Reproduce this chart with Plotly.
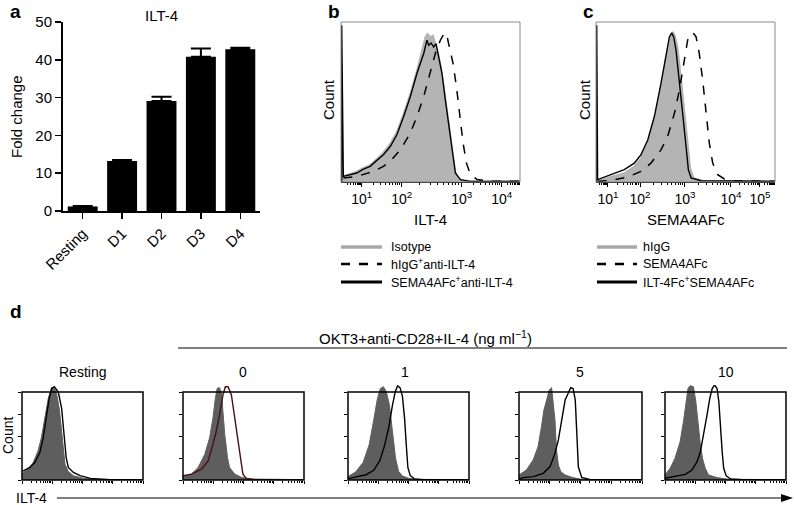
import math
import plotly.graph_objects as go

W, H = 794, 505
FONT = "Liberation Sans, Arial, sans-serif"


def px(x):
    return x / W


def py(y):
    return 1 - y / H


# ---------------- Panel a data ----------------
a_categories = ["Resting", "D1", "D2", "D3", "D4"]
a_values = [1.2, 13.2, 29.1, 40.8, 42.8]
a_errors = [0.1, 0.3, 1.1, 2.2, 0.4]
a_yticks = [0, 10, 20, 30, 40, 50]

# ---------------- Panel b data (x in display units of the biexponential axis) ----------------
b_tick_pos = [11.6, 33.9, 67.4, 89.8]
b_tick_text = ["10<sup>1</sup>", "10<sup>2</sup>", "10<sup>3</sup>", "10<sup>4</sup>"]
b_iso_x = [0.4, 1.3, 5.0, 8.8, 12.5, 16.3, 20.0, 23.7, 27.5, 31.2, 35.0, 38.7, 42.4, 45.2,
           47.1, 48.4, 49.9, 51.4, 52.7, 54.6, 56.4, 58.3, 60.2, 62.1, 63.9, 65.8, 70.5, 100]
b_iso_y = [0, 3.9, 5.0, 6.6, 9.0, 10.8, 14.5, 18.6, 24.2, 31.5, 42.9, 55.4, 69.9, 82.4,
           90.7, 92.7, 90.7, 91.7, 86.5, 79.3, 68.9, 52.3, 35.7, 19.1, 6.6, 1.9, 0.4, 0.4]
b_higg_x = [1.3, 8.8, 18.1, 23.7, 27.5, 33.1, 38.7, 42.4, 46.2, 49.9, 52.7, 55.5, 57.0,
            57.9, 59.3, 60.7, 62.6, 64.5, 66.4, 68.2, 70.1, 72.3, 76.1, 83.6, 100]
b_higg_y = [2.5, 3.5, 6.6, 9.8, 12.9, 20.1, 30.5, 40.9, 53.3, 67.8, 80.3, 88.6, 91.7,
            93.4, 90.7, 84.4, 74.1, 59.5, 40.9, 24.3, 11.8, 4.6, 1.5, 0.4, 0.4]
b_sema_x = [0.4, 0.4, 1.3, 5.0, 8.8, 12.5, 16.3, 20.0, 23.7, 27.5, 31.2, 35.0, 38.7, 42.4,
            46.2, 48.0, 49.0, 50.3, 51.8, 53.1, 54.6, 56.4, 58.3, 60.2, 62.1, 63.9, 66.7,
            72.3, 100]
b_sema_y = [0, 98, 3.5, 4.5, 5.6, 8.0, 9.8, 13.5, 17.0, 22.2, 29.5, 40.9, 53.3, 67.8,
            80.3, 88.6, 85.5, 86.9, 84.4, 86.5, 78.2, 67.8, 51.2, 34.6, 18.0, 5.6, 1.5,
            0.4, 0.4]
b_legend = ["Isotype", "hIgG<sup>+</sup>anti-ILT-4", "SEMA4AFc<sup>+</sup>anti-ILT-4"]

# ---------------- Panel c data ----------------
c_tick_pos = [6.7, 24.6, 49.7, 75.4, 91.6]
c_tick_text = ["10<sup>1</sup>", "10<sup>2</sup>", "10<sup>3</sup>", "10<sup>4</sup>",
               "10<sup>5</sup>"]
c_higg_x = [0.9, 8.4, 15.8, 21.4, 25.1, 28.9, 32.6, 36.3, 39.1, 41.5, 43.0, 44.1, 45.6,
            47.5, 49.3, 51.2, 52.7, 54.6, 60.5, 100]
c_higg_y = [1.0, 3.1, 5.6, 9.8, 14.9, 24.3, 38.8, 59.5, 78.2, 90.7, 93.8, 91.7, 84.4,
            65.8, 45.0, 24.3, 8.7, 2.5, 0.6, 0.4]
c_sema_x = [0.9, 8.4, 17.7, 25.1, 30.7, 36.3, 40.0, 43.8, 46.6, 49.3, 51.2, 53.1, 54.6,
            55.9, 57.7, 59.6, 61.5, 63.3, 65.2, 68.0, 71.7, 75.4, 100]
c_sema_y = [0.4, 1.0, 3.1, 6.6, 11.8, 20.1, 28.4, 42.9, 57.5, 76.1, 88.6, 93.2, 92.7,
            90.7, 80.3, 63.7, 42.9, 24.3, 11.8, 4.6, 1.9, 0.8, 0.4]
c_ilt_x = [0.4, 0.4, 0.9, 8.4, 15.8, 21.4, 25.1, 28.9, 32.6, 36.3, 39.1, 41.0, 42.3, 43.4,
           44.7, 46.6, 48.4, 50.3, 51.6, 53.1, 58.7, 100]
c_ilt_y = [0, 98, 1.5, 4.6, 7.7, 11.8, 17.0, 26.3, 40.9, 61.6, 80.3, 90.7, 93.2, 90.7,
           82.4, 63.7, 42.9, 22.2, 7.7, 2.5, 0.8, 0.4]
c_legend = ["hIgG", "SEMA4AFc", "ILT-4Fc<sup>+</sup>SEMA4AFc"]

# ---------------- Panel d data (x in decades 0-4, y count 0-100) ----------------
d_labels = ["Resting", "0", "1", "5", "10"]
d_gray_x = [
    [0, 0.2, 0.37, 0.53, 0.64, 0.76, 0.87, 0.98, 1.07, 1.14, 1.23, 1.31, 1.37, 1.42, 1.53,
     1.7, 2.03, 2.48, 4],
    [0, 0.28, 0.5, 0.72, 0.88, 0.99, 1.07, 1.13, 1.2, 1.27, 1.32, 1.38, 1.47, 1.54, 1.71,
     1.93, 2.26, 4],
    [0, 0.25, 0.5, 0.7, 0.85, 0.97, 1.07, 1.17, 1.27, 1.37, 1.47, 1.57, 1.67, 1.8, 2.0,
     2.3, 4],
    [0, 0.24, 0.46, 0.62, 0.73, 0.81, 0.9, 0.98, 1.06, 1.11, 1.17, 1.22, 1.28, 1.36, 1.5,
     1.72, 1.99, 2.32, 4],
    [0, 0.17, 0.33, 0.5, 0.61, 0.69, 0.76, 0.83, 0.94, 1.02, 1.09, 1.17, 1.24, 1.33, 1.44,
     1.72, 2.11, 4],
]
d_gray_y = [
    [7.5, 12.4, 19.9, 33, 48, 70.4, 92.9, 105, 104, 98.5, 81.6, 55.4, 33, 18, 9.7, 4.9,
     1.9, 0.4, 0.4],
    [3.7, 6.7, 14.2, 29.2, 47.9, 70.4, 92.9, 104, 105, 100, 77.9, 51.7, 25.5, 14.2, 6.7,
     3, 1.1, 0.4],
    [4, 9, 20, 40, 68, 92, 104, 106, 100, 85, 55, 25, 10, 4.5, 2, 0.7, 0.4],
    [5.7, 11.4, 22.7, 37.9, 60.6, 79.5, 90.9, 102, 105, 90.9, 68, 34, 17, 9.5, 5.7, 3,
     1.1, 0.4, 0.4],
    [5.7, 13.3, 24.6, 43.6, 66.3, 89, 104, 107, 106, 89, 62.5, 39.8, 24.6, 13.3, 5.7,
     2.7, 0.8, 0.4],
]
d_line_x = [
    [0, 0.09, 0.26, 0.42, 0.59, 0.7, 0.81, 0.9, 0.98, 1.07, 1.2, 1.31, 1.39, 1.46, 1.53,
     1.7, 1.92, 2.26, 2.92, 4],
    [0, 0.28, 0.61, 0.83, 0.99, 1.1, 1.21, 1.32, 1.4, 1.49, 1.6, 1.71, 1.82, 1.91, 1.98,
     2.09, 2.37, 4],
    [0, 0.3, 0.6, 0.85, 1.05, 1.2, 1.35, 1.47, 1.56, 1.64, 1.72, 1.8, 1.87, 1.93, 1.98,
     2.06, 2.2, 2.5, 4],
    [0, 0.13, 0.46, 0.79, 1.01, 1.17, 1.28, 1.39, 1.5, 1.6, 1.68, 1.76, 1.83, 1.88, 1.93,
     2.04, 2.32, 4],
    [0, 0.33, 0.67, 0.89, 1.06, 1.17, 1.28, 1.39, 1.48, 1.56, 1.64, 1.72, 1.78, 1.83, 1.89,
     1.94, 2.02, 2.17, 2.56, 4],
]
d_line_y = [
    [9.7, 11.2, 14.2, 19.9, 31.1, 47.9, 74.2, 92.9, 104, 106, 100, 81.6, 51.7, 25.5, 14.2,
     8.6, 4.9, 1.9, 0.4, 0.4],
    [4.9, 6.7, 12.4, 21.7, 40.4, 55.4, 74.2, 96.6, 106, 106, 96.6, 70.4, 40.4, 18, 6.7,
     1.9, 0.4, 0.4],
    [1.5, 3.5, 6, 11, 22, 38, 60, 85, 100, 107, 105, 95, 70, 38, 14, 5, 1.2, 0.4, 0.4],
    [0.8, 2.7, 3.8, 7.6, 15.2, 30.3, 45.5, 68.2, 90.9, 98.5, 105, 104, 90.9, 53, 15, 3,
     0.4, 0.4],
    [1.9, 3.8, 6.4, 11.4, 20.8, 32.2, 51.1, 73.9, 92.8, 104, 108, 104, 89, 58.7, 32.2,
     13.3, 4.9, 1.1, 0.4, 0.4],
]
d_line_colors = ["black", "#4a1010", "black", "black", "black"]

# ---------------- Layout geometry (pixels) ----------------
A_BOX = (63, 260, 22, 211)
B_BOX = (341, 520, 22, 182)
C_BOX = (596, 775, 22, 182)
D_BOXES = [(22, 143), (183, 304), (348, 469), (519, 642), (665, 786)]
D_LABEL_X = [82, 243, 405, 580, 726]
D_TOP, D_BOT = 392, 480
D_YMAX = 108  # axis range top, frame drawn at 100

fig = go.Figure()
layout = dict(
    width=W, height=H, margin=dict(l=0, r=0, t=0, b=0, pad=0, autoexpand=False),
    paper_bgcolor="white", plot_bgcolor="rgba(0,0,0,0)", hovermode=False,
    showlegend=False, font=dict(family=FONT, size=12, color="black"),
)
shapes = []
annotations = []


def ann(x, y, text, size=12, bold=False, angle=0, xanchor="center", yanchor="middle"):
    annotations.append(dict(
        x=px(x), y=py(y), xref="paper", yref="paper", text=f"<b>{text}</b>" if bold else text,
        showarrow=False, textangle=angle, xanchor=xanchor, yanchor=yanchor,
        font=dict(family=FONT, size=size, color="black")))


def minor_between(decades):
    vals = []
    for lo, hi in zip(decades[:-1], decades[1:]):
        for k in range(2, 10):
            vals.append(lo + math.log10(k) * (hi - lo))
    return vals


# ---------------- Panel a ----------------
fig.add_trace(go.Bar(
    x=a_categories, y=a_values, marker=dict(color="black", line=dict(width=0)), width=0.76,
    error_y=dict(type="data", array=a_errors, arrayminus=[0] * len(a_errors),
                 color="black", thickness=2, width=10),
    xaxis="x", yaxis="y"))
layout["xaxis"] = dict(domain=[px(A_BOX[0]), px(A_BOX[1])], anchor="y", showline=True,
                       linecolor="black", linewidth=2, ticks="outside", ticklen=6,
                       tickwidth=1.5, tickcolor="black", tickangle=-45,
                       tickfont=dict(size=15), showgrid=False, zeroline=False,
                       automargin=False)
layout["yaxis"] = dict(domain=[py(A_BOX[3]), py(A_BOX[2])], anchor="x", range=[0, 50],
                       tickvals=a_yticks, showline=True, linecolor="black", linewidth=2,
                       ticks="outside", ticklen=6, tickwidth=1.5, tickcolor="black",
                       tickfont=dict(size=15), showgrid=False, zeroline=False,
                       automargin=False)
ann(8, 11, "a", size=19, bold=True, xanchor="left")
ann(161, 15, "ILT-4", size=15)
ann(17, 117, "Fold change", size=15, angle=-90)

# ---------------- Panels b and c ----------------
def flow_axes(n, box, tick_pos, tick_text, title_text, letter, letter_x, count_x):
    x0, x1, y0, y1 = box
    majors = [0] + tick_pos + [100]
    layout[f"xaxis{n}"] = dict(
        domain=[px(x0), px(x1)], anchor=f"y{n}", range=[0, 100], showline=True,
        linecolor="black", linewidth=1.2, ticks="outside", ticklen=4, tickcolor="black",
        tickvals=tick_pos, ticktext=tick_text, tickfont=dict(size=14), showgrid=False,
        zeroline=False, automargin=False,
        minor=dict(tickvals=[v for v in minor_between(majors) if 0 < v < 100],
                   ticks="outside", ticklen=2, tickcolor="black"))
    layout[f"yaxis{n}"] = dict(domain=[py(y1), py(y0)], anchor=f"x{n}", range=[0, 100],
                               showticklabels=False, showline=False, showgrid=False,
                               zeroline=False, ticks="", automargin=False)
    shapes.append(dict(type="rect", xref="paper", yref="paper", x0=px(x0), x1=px(x1),
                       y0=py(y1), y1=py(y0), line=dict(color="#8a8a8a", width=1)))
    ann((x0 + x1) / 2, 220, title_text, size=15)
    ann(count_x, 100, "Count", size=15, angle=-90)
    ann(letter_x, 11, letter, size=19, bold=True, xanchor="left")


def legend_block(x_line0, x_line1, x_text, labels):
    ys = [247, 264, 282]
    styles = [dict(color="#a8a8a8", width=3.5, dash="solid"),
              dict(color="black", width=2.5, dash="dash"),
              dict(color="black", width=3, dash="solid")]
    for y, lab, st in zip(ys, labels, styles):
        shapes.append(dict(type="line", xref="paper", yref="paper", x0=px(x_line0),
                           x1=px(x_line1), y0=py(y), y1=py(y), line=st))
        ann(x_text, y, lab, size=12.5, xanchor="left")


# b traces
fig.add_trace(go.Scatter(x=b_iso_x, y=b_iso_y, mode="lines", fill="tozeroy",
                         fillcolor="#b4b4b4", line=dict(color="#b4b4b4", width=1.5),
                         xaxis="x2", yaxis="y2"))
fig.add_trace(go.Scatter(x=b_higg_x, y=b_higg_y, mode="lines",
                         line=dict(color="black", width=1.5, dash="dash"),
                         xaxis="x2", yaxis="y2"))
fig.add_trace(go.Scatter(x=b_sema_x, y=b_sema_y, mode="lines",
                         line=dict(color="black", width=1.4), xaxis="x2", yaxis="y2"))
flow_axes(2, B_BOX, b_tick_pos, b_tick_text, "ILT-4", "b", 326, 329)
legend_block(341, 382, 389, b_legend)

# c traces
fig.add_trace(go.Scatter(x=c_higg_x, y=c_higg_y, mode="lines", fill="tozeroy",
                         fillcolor="#b4b4b4", line=dict(color="#b4b4b4", width=1.5),
                         xaxis="x3", yaxis="y3"))
fig.add_trace(go.Scatter(x=c_sema_x, y=c_sema_y, mode="lines",
                         line=dict(color="black", width=1.5, dash="dash"),
                         xaxis="x3", yaxis="y3"))
fig.add_trace(go.Scatter(x=c_ilt_x, y=c_ilt_y, mode="lines",
                         line=dict(color="black", width=1.4), xaxis="x3", yaxis="y3"))
flow_axes(3, C_BOX, c_tick_pos, c_tick_text, "SEMA4AFc", "c", 581, 585)
legend_block(597, 637, 641, c_legend)

# ---------------- Panel d ----------------
d_minor = [k + math.log10(m) for k in range(4) for m in range(2, 10)]
for i, (bx, lab) in enumerate(zip(D_BOXES, d_labels)):
    n = 4 + i
    x0, x1 = bx
    top_px = D_BOT - (D_BOT - D_TOP) * D_YMAX / 100
    fig.add_trace(go.Scatter(x=d_gray_x[i], y=d_gray_y[i], mode="lines", fill="tozeroy",
                             fillcolor="#5e5e5e", line=dict(color="#5e5e5e", width=1),
                             xaxis=f"x{n}", yaxis=f"y{n}"))
    fig.add_trace(go.Scatter(x=d_line_x[i], y=d_line_y[i], mode="lines",
                             line=dict(color=d_line_colors[i], width=1.4),
                             xaxis=f"x{n}", yaxis=f"y{n}"))
    layout[f"xaxis{n}"] = dict(domain=[px(x0), px(x1)], anchor=f"y{n}", range=[0, 4],
                               tickvals=[0, 1, 2, 3, 4], ticks="outside", ticklen=3,
                               tickcolor="black", showticklabels=False, showline=False,
                               showgrid=False, zeroline=False, automargin=False,
                               minor=dict(tickvals=d_minor, ticks="outside", ticklen=2,
                                          tickcolor="black"))
    layout[f"yaxis{n}"] = dict(domain=[py(D_BOT), py(top_px)], anchor=f"x{n}",
                               range=[0, D_YMAX], tickvals=[0, 25, 50, 75, 100],
                               ticks="outside", ticklen=3, tickcolor="black",
                               showticklabels=False, showline=False, showgrid=False,
                               zeroline=False, automargin=False)
    shapes.append(dict(type="rect", xref="paper", yref="paper", x0=px(x0), x1=px(x1),
                       y0=py(D_BOT), y1=py(D_TOP), line=dict(color="black", width=1.5)))
    ann(D_LABEL_X[i], 372, lab, size=14)

ann(8, 311, "d", size=19, bold=True, xanchor="left")
ann(425, 337, "OKT3+anti-CD28+IL-4 (ng ml<sup>−1</sup>)", size=15)
shapes.append(dict(type="line", xref="paper", yref="paper", x0=px(178), x1=px(787),
                   y0=py(348), y1=py(348), line=dict(color="black", width=1)))
ann(8, 436, "Count", size=14, angle=-90)
ann(31, 498, "ILT-4", size=14)
shapes.append(dict(type="line", xref="paper", yref="paper", x0=px(57), x1=px(784),
                   y0=py(498), y1=py(498), line=dict(color="black", width=1.2)))
shapes.append(dict(type="path", xref="paper", yref="paper",
                   path=f"M {px(781)},{py(494)} L {px(793)},{py(498)} L {px(781)},{py(502)} Z",
                   fillcolor="black", line=dict(color="black", width=0)))

layout["shapes"] = shapes
layout["annotations"] = annotations
fig.update_layout(**layout)
fig.write_html("out.html", config={"displayModeBar": False, "staticPlot": True},
               post_script="document.body.style.margin='0px';")
